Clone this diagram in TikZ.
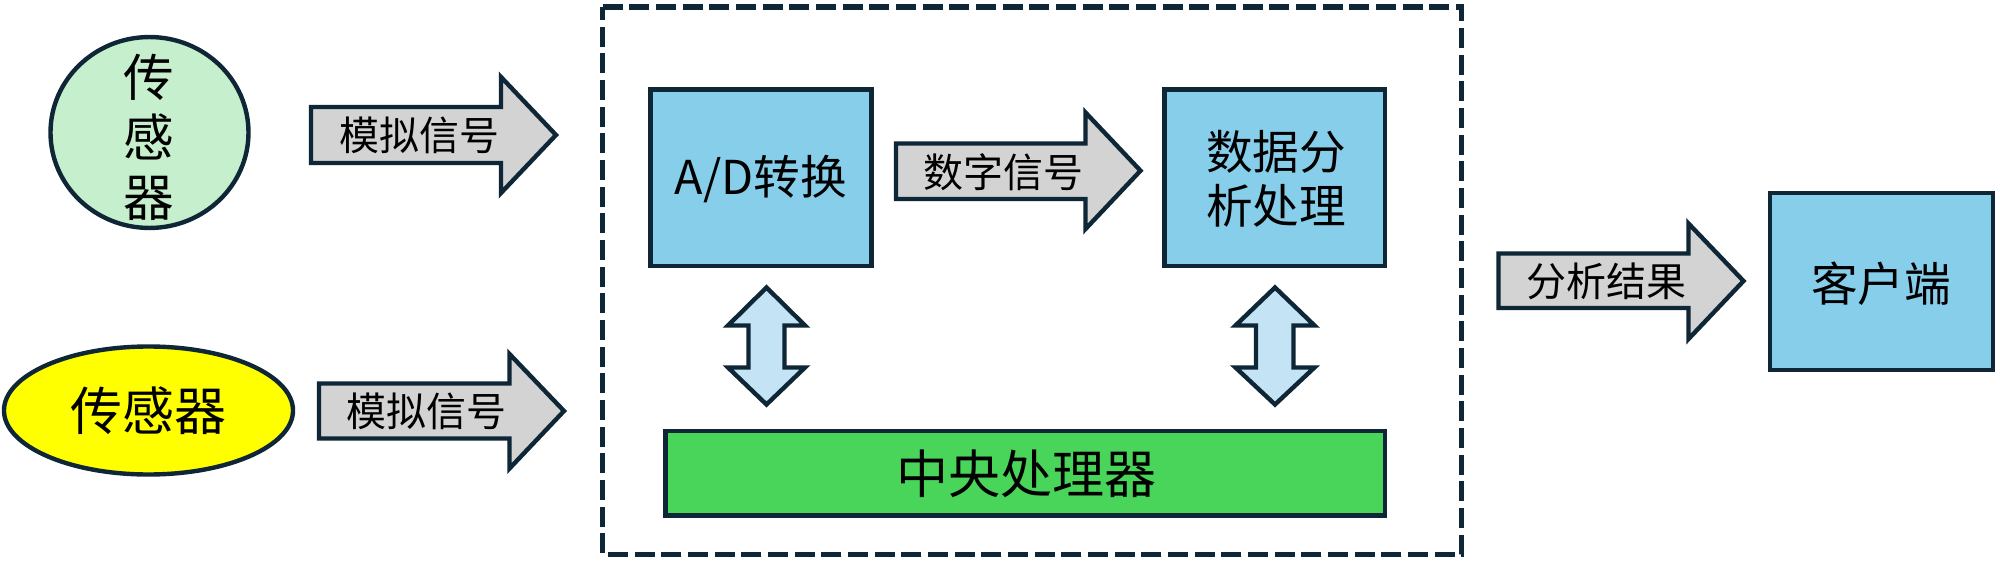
\documentclass[tikz,border=0pt]{standalone}
\usepackage{fontspec}
\setmainfont{Noto Sans CJK SC}
\usetikzlibrary{positioning}

\definecolor{outline}{RGB}{14,38,54}
\definecolor{sensorgreen}{RGB}{198,239,206}
\definecolor{sensoryellow}{RGB}{255,255,0}
\definecolor{boxblue}{RGB}{135,206,235}
\definecolor{arrowgray}{RGB}{211,211,211}
\definecolor{dualblue}{RGB}{196,228,246}
\definecolor{cpugreen}{RGB}{72,213,90}

\tikzset{every picture/.style={line width=0.75pt}}
\tikzset{
  shapeline/.style={draw=outline, line width=3.3pt, line join=miter},
  blockarrow/.style={shapeline, fill=arrowgray},
  dualarrow/.style={shapeline, fill=dualblue},
  unitbox/.style={shapeline, fill=boxblue},
  txt/.style={inner sep=0pt, align=center},
}

\begin{document}
\begin{tikzpicture}[x=0.75pt,y=0.75pt,yscale=-1,xscale=1]

\useasboundingbox (0,0) rectangle (2000,567);

% sensors
\draw  [shapeline, fill=sensorgreen]  (149.5,132.5) ellipse [x radius=74.25pt, y radius=71.6pt] ;
\draw  [shapeline, fill=sensoryellow]  (148.5,410.5) ellipse [x radius=108.4pt, y radius=48pt] ;

% analog signal arrows
\draw  [blockarrow]  (311,107) -- (501,107) -- (501,77) -- (556,135) -- (501,193) -- (501,163) -- (311,163) -- cycle ;
\draw  [blockarrow]  (319,383.5) -- (509.5,383.5) -- (509.5,354) -- (564,411) -- (509.5,468.5) -- (509.5,438.5) -- (319,438.5) -- cycle ;

% processing unit
\draw  [outline, line width=4.3pt, dash pattern=on 15pt off 5pt]  (602.5,7) -- (1461.5,7) -- (1461.5,554.5) -- (602.5,554.5) -- cycle ;

\draw  [unitbox]  (650.5,89.5) rectangle (871.5,266) ;
\draw  [unitbox]  (1164.5,89.5) rectangle (1385,266) ;
\draw  [shapeline, fill=cpugreen]  (665.5,431) rectangle (1385,515.5) ;

\draw  [blockarrow]  (896,143.5) -- (1085.5,143.5) -- (1085.5,112.5) -- (1140.5,170.7) -- (1085.5,229) -- (1085.5,199) -- (896,199) -- cycle ;

\draw  [dualarrow]  (766.5,287.5) -- (805,325.5) -- (784.5,325.5) -- (784.5,367.5) -- (805,367.5) -- (766.5,404.5) -- (728,367.5) -- (748.5,367.5) -- (748.5,325.5) -- (728,325.5) -- cycle ;
\draw  [dualarrow]  (1275,287.5) -- (1314.5,325.5) -- (1293.5,325.5) -- (1293.5,367.5) -- (1314.5,367.5) -- (1275,404.5) -- (1235.5,367.5) -- (1256,367.5) -- (1256,325.5) -- (1235.5,325.5) -- cycle ;

% result and client
\draw  [blockarrow]  (1498.5,253.5) -- (1688.5,253.5) -- (1688.5,223.5) -- (1743.5,281) -- (1688.5,339) -- (1688.5,308) -- (1498.5,308) -- cycle ;
\draw  [unitbox]  (1770,193) rectangle (1993,370) ;

% labels
\node [txt, font=\fontsize{38}{45}\selectfont] (sensorA) at (149,137.5) {传\\感\\器};
\node [txt, font=\fontsize{39}{47}\selectfont] (sensorB) at (148,411) {传感器};
\node [txt, font=\fontsize{30}{36}\selectfont] (analogA) at (419,135) {模拟信号};
\node [txt, font=\fontsize{30}{36}\selectfont] (analogB) at (426,411) {模拟信号};
\node [txt, font=\fontsize{35}{42}\selectfont] (adconv) at (761,179) {A/D转换};
\node [txt, font=\fontsize{30}{36}\selectfont] (digital) at (1003,172) {数字信号};
\node [txt, font=\fontsize{35}{40.5}\selectfont] (analysis) at (1276,179) {数据分\\析处理};
\node [txt, font=\fontsize{39}{47}\selectfont] (cpu) at (1026,474) {中央处理器};
\node [txt, font=\fontsize{30}{36}\selectfont] (result) at (1606,281) {分析结果};
\node [txt, font=\fontsize{35}{42}\selectfont] (client) at (1881,284) {客户端};

\end{tikzpicture}
\end{document}
